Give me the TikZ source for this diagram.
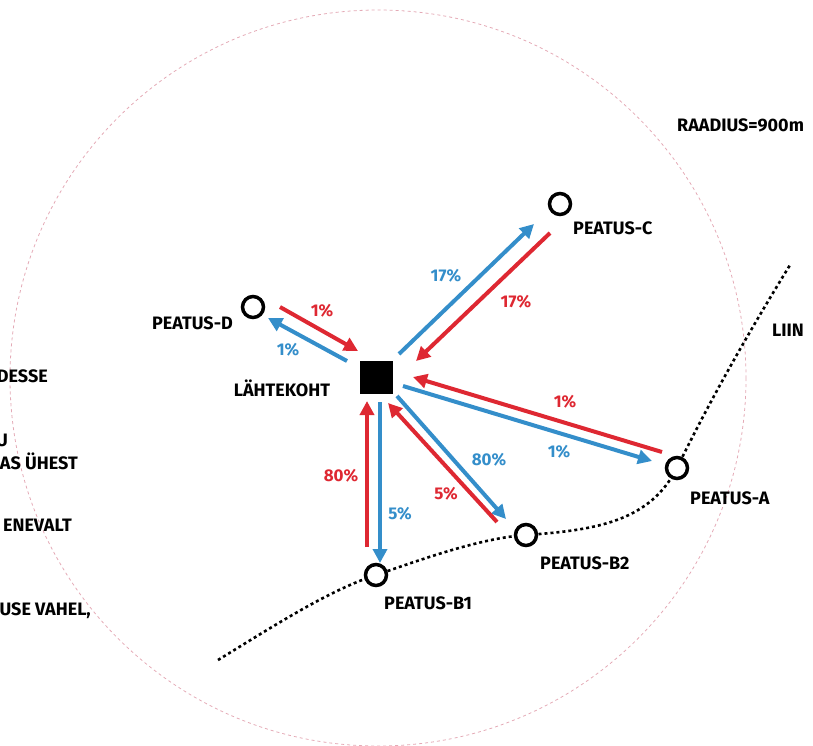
\documentclass[tikz,border=0pt]{standalone}
\usepackage{fontspec}
\setmainfont{Fira Sans}
\usetikzlibrary{arrows.meta}
\definecolor{flowred}{RGB}{222,40,50}
\definecolor{flowblue}{RGB}{52,142,202}
\definecolor{rimpink}{RGB}{228,170,182}
\tikzset{
  x=1pt, y=-1pt,
  stop/.style={circle, draw=black, line width=3.5pt, fill=white, minimum size=21pt, inner sep=0pt},
  origin/.style={rectangle, fill=black, minimum size=33pt, inner sep=0pt},
  lbl/.style={font=\fontsize{18}{20}\selectfont\bfseries, text=black, inner sep=0pt},
  pct/.style={font=\fontsize{17}{19}\selectfont\bfseries, inner sep=0pt},
  flow/.style={line width=4pt, -{Triangle[length=14pt,width=14pt]}},
  outred/.style={flow, flowred},
  outblue/.style={flow, flowblue},
}
\begin{document}
\begin{tikzpicture}
\useasboundingbox (0,0) rectangle (813,745);
\clip (0,0) rectangle (813,745);

% walking radius
\draw[rimpink, line width=0.8pt, dash pattern=on 3pt off 3pt] (378,378) circle (368);

% transit line
\draw[black, line width=2.6pt, dash pattern=on 3pt off 3pt]
  (218,660) .. controls (280,622) and (330,590) .. (376,575)
  .. controls (420,560) and (480,538) .. (526,535)
  .. controls (600,530) and (650,520) .. (677,468)
  .. controls (710,400) and (750,330) .. (790,265);

% start point and stops
\node[origin] (L) at (376,377) {};
\node[stop] (D) at (253,307) {};
\node[stop] (C) at (560,204) {};
\node[stop] (A) at (677,468) {};
\node[stop] (B2) at (526,535) {};
\node[stop] (B1) at (376,575) {};

% labels
\node[lbl] (tL) at (282,388) {LÄHTEKOHT};
\node[lbl, anchor=east] (tD) at (233,323) {PEATUS-D};
\node[lbl, anchor=west] (tC) at (573,228) {PEATUS-C};
\node[lbl, anchor=west] (tA) at (690,498) {PEATUS-A};
\node[lbl, anchor=west] (tB2) at (540,563) {PEATUS-B2};
\node[lbl, anchor=west] (tB1) at (384,603) {PEATUS-B1};
\node[lbl, anchor=west] (tR) at (677,125) {RAADIUS=900m};
\node[lbl, anchor=west] (tLi) at (772,330) {LIIN};

% side text running off the left edge
\node[lbl, anchor=east] (s1) at (48,376) {DESSE};
\node[lbl, anchor=east] (s2) at (8,440) {U};
\node[lbl, anchor=east] (s3) at (78,461) {AS ÜHEST};
\node[lbl, anchor=east] (s4) at (72,525) {ENEVALT};
\node[lbl, anchor=east] (s5) at (91,611) {USE VAHEL,};

% arrow end points
\coordinate (dR1) at (280,307); \coordinate (dR2) at (358,351);
\coordinate (dB1) at (347,361); \coordinate (dB2) at (268,318);
\coordinate (cB1) at (399,354); \coordinate (cB2) at (534,224);
\coordinate (cR1) at (550,233); \coordinate (cR2) at (416,361);
\coordinate (aR1) at (662,452); \coordinate (aR2) at (413,377);
\coordinate (aB1) at (403,386); \coordinate (aB2) at (652,461);
\coordinate (b1R1) at (367,547); \coordinate (b1R2) at (367,401);
\coordinate (b1B1) at (380,402); \coordinate (b1B2) at (380,563);
\coordinate (b2B1) at (397,396); \coordinate (b2B2) at (506,519);
\coordinate (b2R1) at (497,522); \coordinate (b2R2) at (388,403);

% flows
\draw[outred] (dR1) -- (dR2);
\draw[outblue] (dB1) -- (dB2);
\draw[outblue] (cB1) -- (cB2);
\draw[outred] (cR1) -- (cR2);
\draw[outred] (aR1) -- (aR2);
\draw[outblue] (aB1) -- (aB2);
\draw[outred] (b1R1) -- (b1R2);
\draw[outblue] (b1B1) -- (b1B2);
\draw[outblue] (b2B1) -- (b2B2);
\draw[outred] (b2R1) -- (b2R2);

% shares
\node[pct, text=flowred] (pD1) at (322,311) {1\%};
\node[pct, text=flowblue] (pD2) at (288,350) {1\%};
\node[pct, text=flowblue] (pC1) at (446,276) {17\%};
\node[pct, text=flowred] (pC2) at (516,302) {17\%};
\node[pct, text=flowred] (pA1) at (565,402) {1\%};
\node[pct, text=flowblue] (pA2) at (559,452) {1\%};
\node[pct, text=flowred] (pB1a) at (341,476) {80\%};
\node[pct, text=flowblue] (pB1b) at (400,514) {5\%};
\node[pct, text=flowblue] (pB2a) at (489,460) {80\%};
\node[pct, text=flowred] (pB2b) at (446,494) {5\%};
\end{tikzpicture}
\end{document}
